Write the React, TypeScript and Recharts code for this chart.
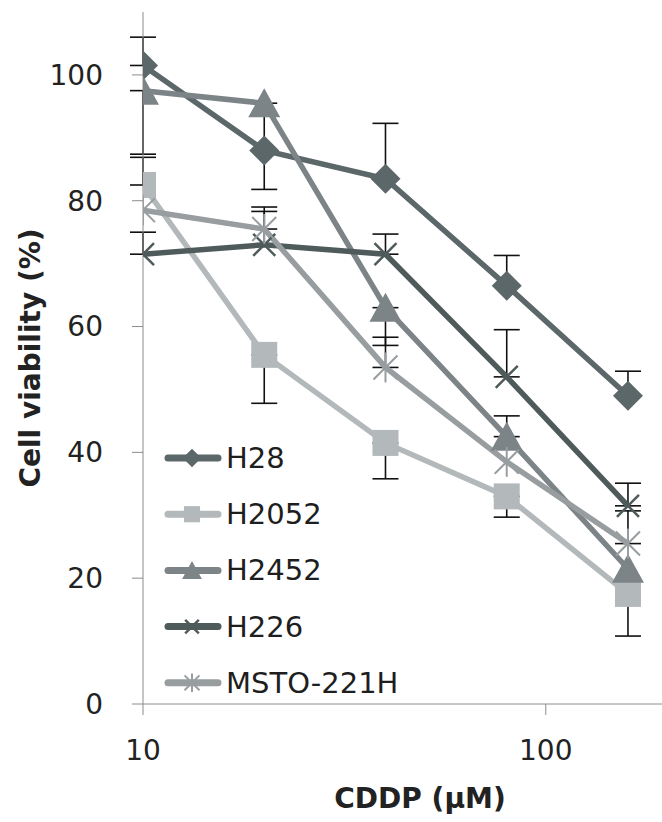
import React from 'react';
import { LineChart, Line, XAxis, YAxis, ErrorBar, Legend } from 'recharts';

const doses = [10, 20, 40, 80, 160];
const xTicks = [10, 100];
const yTicks = [0, 20, 40, 60, 80, 100];

const h28 = [101.5, 88, 83.5, 66.5, 49];
const h2052 = [82.5, 55.5, 41.5, 33, 17.5];
const h2452 = [97.5, 95.5, 63, 42.5, 21.5];
const h226 = [71.5, 73, 71.5, 52, 31.5];
const msto = [78.5, 75.5, 53.5, 38.5, 25.5];

// error bars as [below, above]; only one side is drawn in the figure
const h28Err = [[0, 4.5], [6.2, 0], [0, 8.8], [0, 4.8], [0, 3.9]];
const h2052Err = [[0, 4.4], [7.7, 0], [5.7, 0], [3.3, 0], [6.7, 0]];
const h2452Err = [[10.1, 0], [7.5, 0], [6, 0], [0, 3.3], null];
const h226Err = [[0, 3.5], [0, 6], [0, 3.2], [0, 7.5], [0, 3.6]];
const mstoErr = [null, [0, 2.8], [0, 4.8], null, [0, 5.2]];

const FONT = 'DejaVu Sans, Verdana, sans-serif';
const AXIS = '#8c8c8c';

type Kind = 'diamond' | 'square' | 'triangle' | 'x' | 'star';

const series: { name: string; values: number[]; err: (number[] | null)[]; color: string; kind: Kind }[] = [
  { name: 'H28', values: h28, err: h28Err, color: '#5c6769', kind: 'diamond' },
  { name: 'H2052', values: h2052, err: h2052Err, color: '#b3b8bb', kind: 'square' },
  { name: 'H2452', values: h2452, err: h2452Err, color: '#7c8488', kind: 'triangle' },
  { name: 'H226', values: h226, err: h226Err, color: '#4f5b5b', kind: 'x' },
  { name: 'MSTO-221H', values: msto, err: mstoErr, color: '#989da0', kind: 'star' },
];

function Marker({ kind, cx, cy, color, s = 1 }: { kind: Kind; cx: number; cy: number; color: string; s?: number }) {
  if (kind === 'diamond') {
    const r = 15 * s;
    return <polygon points={`${cx},${cy - r} ${cx + r},${cy} ${cx},${cy + r} ${cx - r},${cy}`} fill={color} />;
  }
  if (kind === 'square') {
    const h = 13 * s;
    return <rect x={cx - h} y={cy - h} width={2 * h} height={2 * h} fill={color} />;
  }
  if (kind === 'triangle') {
    return (
      <polygon
        points={`${cx},${cy - 15 * s} ${cx + 16 * s},${cy + 14 * s} ${cx - 16 * s},${cy + 14 * s}`}
        fill={color}
      />
    );
  }
  if (kind === 'x') {
    const a = 11 * s;
    return (
      <g stroke={color} strokeWidth={2.5}>
        <line x1={cx - a} y1={cy - a} x2={cx + a} y2={cy + a} />
        <line x1={cx - a} y1={cy + a} x2={cx + a} y2={cy - a} />
      </g>
    );
  }
  const a = 12 * s;
  return (
    <g stroke={color} strokeWidth={2}>
      <line x1={cx - a} y1={cy - a} x2={cx + a} y2={cy + a} />
      <line x1={cx - a} y1={cy + a} x2={cx + a} y2={cy - a} />
      <line x1={cx} y1={cy - 15 * s} x2={cx} y2={cy + 15 * s} />
    </g>
  );
}

function LegendBox() {
  return (
    <svg width={330} height={290} style={{ overflow: 'visible' }}>
      {series.map((s, i) => {
        const y = 28 + i * 56.2;
        return (
          <g key={s.name}>
            <line x1={18} y1={y} x2={68} y2={y} stroke={s.color} strokeWidth={7} strokeLinecap="round" />
            <Marker kind={s.kind} cx={42} cy={y} color={s.color} s={0.62} />
            <text x={76} y={y} dominantBaseline="central" fontFamily={FONT} fontSize={29} fill="#1e1e1e">
              {s.name}
            </text>
          </g>
        );
      })}
    </svg>
  );
}

export default function App() {
  return (
    <div style={{ position: 'absolute', left: 0, top: 0, width: 662, height: 822, background: '#fff' }}>
      <LineChart width={662} height={822} margin={{ top: 12, right: -5, bottom: 0, left: 0 }}>
        <XAxis
          dataKey="dose"
          type="number"
          scale="log"
          domain={[10, 200]}
          ticks={xTicks}
          allowDataOverflow
          height={118}
          stroke={AXIS}
          tickSize={11}
          tickMargin={25}
          tick={{ fontFamily: FONT, fontSize: 28, fill: '#222' }}
          label={({ viewBox }: any) => (
            <text
              x={viewBox.x + 277}
              y={viewBox.y + 94}
              textAnchor="middle"
              dominantBaseline="central"
              fontFamily={FONT}
              fontWeight="bold"
              fontSize={28}
              fill="#222"
            >
              CDDP (μM)
            </text>
          )}
        />
        <YAxis
          type="number"
          domain={[0, 110]}
          ticks={yTicks}
          allowDataOverflow
          width={143}
          stroke={AXIS}
          tickSize={11}
          tickMargin={29}
          tick={{ fontFamily: FONT, fontSize: 28, fill: '#222' }}
          label={({ viewBox }: any) => (
            <text
              x={viewBox.x + 30}
              y={viewBox.y + viewBox.height / 2}
              transform={`rotate(-90 ${viewBox.x + 30} ${viewBox.y + viewBox.height / 2})`}
              textAnchor="middle"
              dominantBaseline="central"
              fontFamily={FONT}
              fontWeight="bold"
              fontSize={28}
              fill="#222"
            >
              Cell viability (%)
            </text>
          )}
        />
        <Legend
          layout="vertical"
          align="center"
          verticalAlign="middle"
          wrapperStyle={{ left: 150, top: 430, width: 330, height: 290 }}
          content={() => <LegendBox />}
        />
        {series.map((s) => (
          <Line
            key={s.name}
            name={s.name}
            data={doses.map((d, i) => ({ dose: d, value: s.values[i], err: s.err[i] }))}
            dataKey="value"
            type="linear"
            stroke={s.color}
            strokeWidth={5.5}
            isAnimationActive={false}
            activeDot={false}
            dot={(p: any) => <Marker key={`${s.name}-${p.index}`} kind={s.kind} cx={p.cx} cy={p.cy} color={s.color} />}
          >
            <ErrorBar dataKey="err" direction="y" width={13} strokeWidth={1.6} stroke="#111" isAnimationActive={false} />
          </Line>
        ))}
      </LineChart>
    </div>
  );
}
